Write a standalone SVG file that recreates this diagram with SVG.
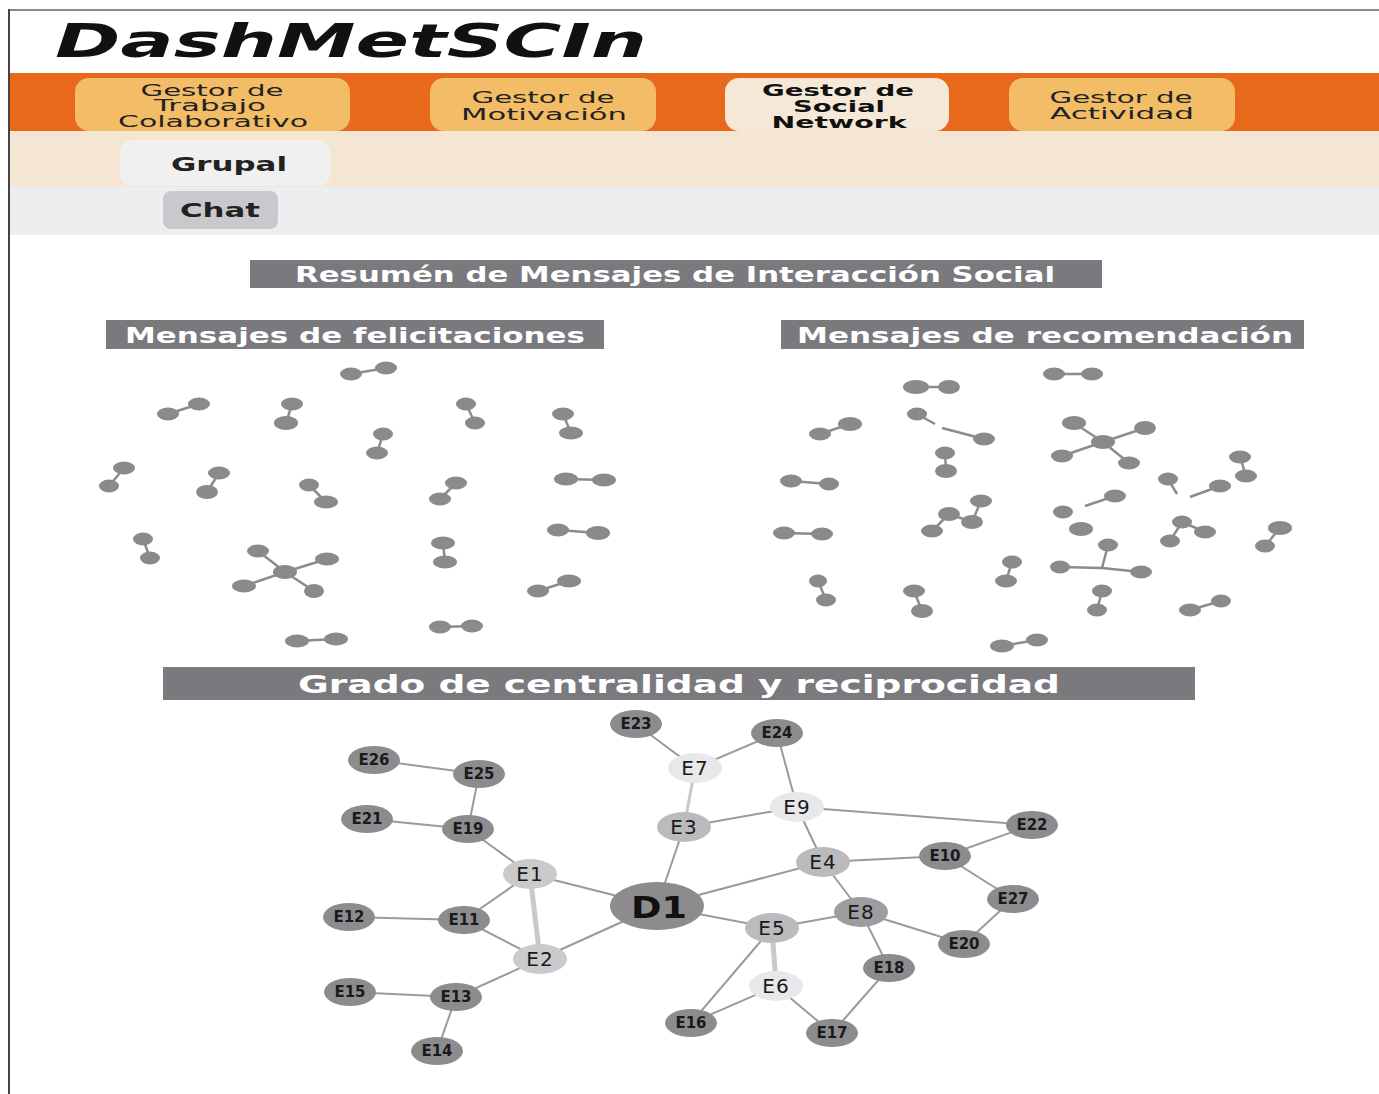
<svg xmlns="http://www.w3.org/2000/svg" width="1379" height="1094" viewBox="0 0 1379 1094">
<style>
.tab{fill:#F2BD66}
.tabact{fill:#F6E8D6}
.tt{font-family:"DejaVu Sans",sans-serif;font-size:16px;fill:#222;text-anchor:middle}
.ttb{font-family:"DejaVu Sans",sans-serif;font-size:16px;font-weight:bold;fill:#111;text-anchor:middle}
.bar{fill:#7a797e}
.bt{font-family:"DejaVu Sans",sans-serif;font-weight:bold;fill:#fff;text-anchor:middle}
.sc ellipse{fill:#8a8a8a}
.sc line{stroke:#8c8c8c;stroke-width:2.5}
.edge{stroke:#9a9a9a;stroke-width:2}
.thick{stroke:#c9c9cc;stroke-width:5}
.nd{fill:#8c8c8f}
.n8{fill:#9d9d9f}
.nm{fill:#bbbbbe}
.nl{fill:#cacacd}
.nw{fill:#e8e8ea}
.ls{font-family:"DejaVu Sans",sans-serif;font-size:15px;font-weight:bold;fill:#1a1a1a;text-anchor:middle}
.lb{font-family:"DejaVu Sans",sans-serif;font-size:20px;fill:#1a1a1a;text-anchor:middle;letter-spacing:1px}
</style>
<rect x="0" y="0" width="1379" height="1094" fill="#fff"/>
<line x1="9" y1="10" x2="1379" y2="10" stroke="#8a8a8a" stroke-width="2"/>
<line x1="9" y1="9" x2="9" y2="1094" stroke="#444" stroke-width="2"/>
<g id="title"><text x="55" y="57" font-family="DejaVu Sans, sans-serif" font-size="46" font-weight="bold" font-style="italic" fill="#111" textLength="592" lengthAdjust="spacingAndGlyphs">DashMetSCIn</text></g>
<g id="menu">
<rect x="10" y="73" width="1369" height="58" fill="#E8691B"/>
<rect x="10" y="131" width="1369" height="56" fill="#F4E6D2"/>
<rect x="10" y="187" width="1369" height="48" fill="#EDEEF0"/>
<g id="tab1"><rect class="tab" x="75" y="78" width="275" height="53" rx="14"/>
<text class="tt" x="212" y="96" textLength="143" lengthAdjust="spacingAndGlyphs">Gestor de</text>
<text class="tt" x="210" y="111" textLength="112" lengthAdjust="spacingAndGlyphs">Trabajo</text>
<text class="tt" x="213" y="127" textLength="190" lengthAdjust="spacingAndGlyphs">Colaborativo</text></g>
<g id="tab2"><rect class="tab" x="430" y="78" width="226" height="53" rx="14"/>
<text class="tt" x="543" y="103" textLength="143" lengthAdjust="spacingAndGlyphs">Gestor de</text>
<text class="tt" x="544" y="120" textLength="166" lengthAdjust="spacingAndGlyphs">Motivación</text></g>
<g id="tab3"><rect class="tabact" x="725" y="78" width="224" height="53" rx="14"/>
<text class="ttb" x="838" y="96" textLength="152" lengthAdjust="spacingAndGlyphs">Gestor de</text>
<text class="ttb" x="839" y="112" textLength="92" lengthAdjust="spacingAndGlyphs">Social</text>
<text class="ttb" x="839" y="128" textLength="135" lengthAdjust="spacingAndGlyphs">Network</text></g>
<g id="tab4"><rect class="tab" x="1009" y="78" width="226" height="53" rx="14"/>
<text class="tt" x="1121" y="103" textLength="143" lengthAdjust="spacingAndGlyphs">Gestor de</text>
<text class="tt" x="1122" y="119" textLength="144" lengthAdjust="spacingAndGlyphs">Actividad</text></g>
<g id="grupal"><rect x="120" y="140" width="210" height="46" rx="12" fill="#F0F0F0"/>
<text x="229" y="171" font-family="DejaVu Sans, sans-serif" font-size="20" font-weight="bold" fill="#222" text-anchor="middle" textLength="116" lengthAdjust="spacingAndGlyphs">Grupal</text></g>
<g id="chat"><rect x="163" y="191" width="115" height="38" rx="8" fill="#C9C9CD"/>
<text x="220" y="217" font-family="DejaVu Sans, sans-serif" font-size="20" font-weight="bold" fill="#222" text-anchor="middle" textLength="80" lengthAdjust="spacingAndGlyphs">Chat</text></g>
</g>
<g id="bars">
<rect class="bar" x="250" y="260" width="852" height="28"/>
<text class="bt" x="675" y="282" font-size="21" textLength="760" lengthAdjust="spacingAndGlyphs">Resumén de Mensajes de Interacción Social</text>
<rect class="bar" x="106" y="320" width="498" height="29"/>
<text class="bt" x="355" y="343" font-size="21" textLength="460" lengthAdjust="spacingAndGlyphs">Mensajes de felicitaciones</text>
<rect class="bar" x="781" y="320" width="523" height="29"/>
<text class="bt" x="1045" y="343" font-size="21" textLength="496" lengthAdjust="spacingAndGlyphs">Mensajes de recomendación</text>
<rect class="bar" x="163" y="667" width="1032" height="33"/>
<text class="bt" x="679" y="693" font-size="25" textLength="762" lengthAdjust="spacingAndGlyphs">Grado de centralidad y reciprocidad</text>
</g>
<g id="felicitaciones" class="sc">
<line x1="351" y1="374" x2="386" y2="368"/><ellipse cx="351" cy="374" rx="11" ry="6.5"/><ellipse cx="386" cy="368" rx="11" ry="6.5"/>
<line x1="168" y1="414" x2="199" y2="404"/><ellipse cx="168" cy="414" rx="11" ry="6.5"/><ellipse cx="199" cy="404" rx="11" ry="6.5"/>
<line x1="292" y1="404" x2="286" y2="423"/><ellipse cx="292" cy="404" rx="11" ry="6.5"/><ellipse cx="286" cy="423" rx="12" ry="7"/>
<line x1="466" y1="404" x2="475" y2="423"/><ellipse cx="466" cy="404" rx="10" ry="6.5"/><ellipse cx="475" cy="423" rx="10" ry="6.5"/>
<line x1="563" y1="414" x2="571" y2="433"/><ellipse cx="563" cy="414" rx="11" ry="6.5"/><ellipse cx="571" cy="433" rx="12" ry="6.5"/>
<line x1="383" y1="434" x2="377" y2="453"/><ellipse cx="383" cy="434" rx="10" ry="6.5"/><ellipse cx="377" cy="453" rx="11" ry="6.5"/>
<line x1="124" y1="468" x2="109" y2="486"/><ellipse cx="124" cy="468" rx="11" ry="6.5"/><ellipse cx="109" cy="486" rx="10" ry="6.5"/>
<line x1="219" y1="473" x2="207" y2="492"/><ellipse cx="219" cy="473" rx="11" ry="6.5"/><ellipse cx="207" cy="492" rx="11" ry="7"/>
<line x1="309" y1="485" x2="326" y2="502"/><ellipse cx="309" cy="485" rx="10" ry="6.5"/><ellipse cx="326" cy="502" rx="12" ry="6.5"/>
<line x1="456" y1="483" x2="440" y2="499"/><ellipse cx="456" cy="483" rx="11" ry="6.5"/><ellipse cx="440" cy="499" rx="11" ry="6.5"/>
<line x1="566" y1="479" x2="604" y2="480"/><ellipse cx="566" cy="479" rx="12" ry="6.5"/><ellipse cx="604" cy="480" rx="12" ry="6.5"/>
<line x1="143" y1="539" x2="150" y2="558"/><ellipse cx="143" cy="539" rx="10" ry="6.5"/><ellipse cx="150" cy="558" rx="10" ry="6.5"/>
<line x1="285" y1="572" x2="258" y2="551"/><line x1="285" y1="572" x2="327" y2="559"/><line x1="285" y1="572" x2="244" y2="586"/><line x1="285" y1="572" x2="314" y2="591"/>
<ellipse cx="285" cy="572" rx="12" ry="7"/><ellipse cx="258" cy="551" rx="11" ry="6.5"/><ellipse cx="327" cy="559" rx="12" ry="6.5"/><ellipse cx="244" cy="586" rx="12" ry="6.5"/><ellipse cx="314" cy="591" rx="10" ry="7"/>
<line x1="443" y1="543" x2="445" y2="562"/><ellipse cx="443" cy="543" rx="12" ry="6.5"/><ellipse cx="445" cy="562" rx="12" ry="6.5"/>
<line x1="558" y1="530" x2="598" y2="533"/><ellipse cx="558" cy="530" rx="11" ry="6.5"/><ellipse cx="598" cy="533" rx="12" ry="7"/>
<line x1="569" y1="581" x2="538" y2="591"/><ellipse cx="569" cy="581" rx="12" ry="6.5"/><ellipse cx="538" cy="591" rx="11" ry="6.5"/>
<line x1="440" y1="627" x2="472" y2="626"/><ellipse cx="440" cy="627" rx="11" ry="6.5"/><ellipse cx="472" cy="626" rx="11" ry="6.5"/>
<line x1="297" y1="641" x2="336" y2="639"/><ellipse cx="297" cy="641" rx="12" ry="6.5"/><ellipse cx="336" cy="639" rx="12" ry="6.5"/>
</g>
<g id="recomendacion" class="sc">
<line x1="1054" y1="374" x2="1092" y2="374"/><ellipse cx="1054" cy="374" rx="11" ry="6.5"/><ellipse cx="1092" cy="374" rx="11" ry="6.5"/>
<line x1="916" y1="387" x2="949" y2="387"/><ellipse cx="916" cy="387" rx="13" ry="7"/><ellipse cx="949" cy="387" rx="11" ry="7"/>
<line x1="820" y1="434" x2="850" y2="424"/><ellipse cx="820" cy="434" rx="11" ry="6.5"/><ellipse cx="850" cy="424" rx="12" ry="7"/>
<line x1="917" y1="414" x2="935" y2="424"/><line x1="942" y1="428" x2="984" y2="439"/><ellipse cx="917" cy="414" rx="10" ry="6.5"/><ellipse cx="984" cy="439" rx="11" ry="6.5"/>
<line x1="1103" y1="442" x2="1074" y2="423"/><line x1="1103" y1="442" x2="1145" y2="428"/><line x1="1103" y1="442" x2="1062" y2="456"/><line x1="1103" y1="442" x2="1129" y2="463"/>
<ellipse cx="1103" cy="442" rx="12" ry="7"/><ellipse cx="1074" cy="423" rx="12" ry="7"/><ellipse cx="1145" cy="428" rx="11" ry="7"/><ellipse cx="1062" cy="456" rx="11" ry="6.5"/><ellipse cx="1129" cy="463" rx="11" ry="6.5"/>
<line x1="945" y1="453" x2="946" y2="471"/><ellipse cx="945" cy="453" rx="10" ry="6.5"/><ellipse cx="946" cy="471" rx="11" ry="7"/>
<line x1="791" y1="481" x2="829" y2="484"/><ellipse cx="791" cy="481" rx="11" ry="6.5"/><ellipse cx="829" cy="484" rx="10" ry="6.5"/>
<line x1="784" y1="533" x2="822" y2="534"/><ellipse cx="784" cy="533" rx="11" ry="6.5"/><ellipse cx="822" cy="534" rx="11" ry="6.5"/>
<line x1="981" y1="501" x2="972" y2="522"/><line x1="949" y1="514" x2="972" y2="522"/><line x1="949" y1="514" x2="932" y2="531"/>
<ellipse cx="981" cy="501" rx="11" ry="6.5"/><ellipse cx="949" cy="514" rx="11" ry="7"/><ellipse cx="972" cy="522" rx="11" ry="7"/><ellipse cx="932" cy="531" rx="11" ry="6.5"/>
<line x1="1115" y1="496" x2="1085" y2="506"/><ellipse cx="1115" cy="496" rx="11" ry="6.5"/><ellipse cx="1063" cy="512" rx="10" ry="6.5"/><ellipse cx="1081" cy="529" rx="12" ry="7"/>
<line x1="1168" y1="479" x2="1177" y2="494"/><line x1="1220" y1="486" x2="1190" y2="497"/><ellipse cx="1168" cy="479" rx="10" ry="6.5"/><ellipse cx="1220" cy="486" rx="11" ry="6.5"/>
<line x1="1240" y1="457" x2="1246" y2="476"/><ellipse cx="1240" cy="457" rx="11" ry="6.5"/><ellipse cx="1246" cy="476" rx="11" ry="6.5"/>
<line x1="1182" y1="522" x2="1205" y2="532"/><line x1="1182" y1="522" x2="1170" y2="541"/><ellipse cx="1182" cy="522" rx="10" ry="6.5"/><ellipse cx="1205" cy="532" rx="11" ry="6.5"/><ellipse cx="1170" cy="541" rx="10" ry="6.5"/>
<line x1="1280" y1="528" x2="1265" y2="546"/><ellipse cx="1280" cy="528" rx="12" ry="7"/><ellipse cx="1265" cy="546" rx="10" ry="6.5"/>
<line x1="1102" y1="568" x2="1108" y2="545"/><line x1="1102" y1="568" x2="1060" y2="567"/><line x1="1102" y1="568" x2="1141" y2="572"/>
<ellipse cx="1108" cy="545" rx="10" ry="6.5"/><ellipse cx="1060" cy="567" rx="10" ry="6.5"/><ellipse cx="1141" cy="572" rx="11" ry="6.5"/>
<line x1="1012" y1="562" x2="1006" y2="581"/><ellipse cx="1012" cy="562" rx="10" ry="6.5"/><ellipse cx="1006" cy="581" rx="11" ry="6.5"/>
<line x1="818" y1="581" x2="826" y2="600"/><ellipse cx="818" cy="581" rx="9" ry="6.5"/><ellipse cx="826" cy="600" rx="10" ry="6.5"/>
<line x1="914" y1="591" x2="922" y2="611"/><ellipse cx="914" cy="591" rx="11" ry="6.5"/><ellipse cx="922" cy="611" rx="11" ry="7"/>
<line x1="1102" y1="591" x2="1097" y2="610"/><ellipse cx="1102" cy="591" rx="10" ry="6.5"/><ellipse cx="1097" cy="610" rx="10" ry="6.5"/>
<line x1="1221" y1="601" x2="1190" y2="610"/><ellipse cx="1221" cy="601" rx="10" ry="6.5"/><ellipse cx="1190" cy="610" rx="11" ry="6.5"/>
<line x1="1002" y1="646" x2="1037" y2="640"/><ellipse cx="1002" cy="646" rx="12" ry="6.5"/><ellipse cx="1037" cy="640" rx="11" ry="6.5"/>
</g>
<g id="connectors">
<line class="edge" x1="636" y1="724" x2="695" y2="768"/>
<line class="edge" x1="695" y1="768" x2="777" y2="733"/>
<line class="thick" x1="695" y1="768" x2="684" y2="827" style="stroke-width:3"/>
<line class="edge" x1="777" y1="733" x2="797" y2="807"/>
<line class="edge" x1="797" y1="807" x2="684" y2="827"/>
<line class="edge" x1="797" y1="807" x2="1032" y2="825"/>
<line class="edge" x1="797" y1="807" x2="823" y2="862"/>
<line class="edge" x1="1032" y1="825" x2="945" y2="856"/>
<line class="edge" x1="945" y1="856" x2="823" y2="862"/>
<line class="edge" x1="945" y1="856" x2="1013" y2="899"/>
<line class="edge" x1="1013" y1="899" x2="964" y2="944"/>
<line class="edge" x1="684" y1="827" x2="657" y2="906"/>
<line class="edge" x1="657" y1="906" x2="823" y2="862"/>
<line class="edge" x1="823" y1="862" x2="861" y2="912"/>
<line class="edge" x1="657" y1="906" x2="772" y2="928"/>
<line class="edge" x1="772" y1="928" x2="861" y2="912"/>
<line class="edge" x1="861" y1="912" x2="964" y2="944"/>
<line class="edge" x1="861" y1="912" x2="889" y2="968"/>
<line class="edge" x1="889" y1="968" x2="832" y2="1033"/>
<line class="thick" x1="772" y1="928" x2="776" y2="986"/>
<line class="edge" x1="772" y1="928" x2="691" y2="1023"/>
<line class="edge" x1="776" y1="986" x2="691" y2="1023"/>
<line class="edge" x1="776" y1="986" x2="832" y2="1033"/>
<line class="edge" x1="374" y1="760" x2="479" y2="774"/>
<line class="edge" x1="479" y1="774" x2="468" y2="829"/>
<line class="edge" x1="367" y1="819" x2="468" y2="829"/>
<line class="edge" x1="468" y1="829" x2="530" y2="874"/>
<line class="edge" x1="530" y1="874" x2="657" y2="906"/>
<line class="edge" x1="530" y1="874" x2="464" y2="920"/>
<line class="thick" x1="530" y1="874" x2="540" y2="959"/>
<line class="edge" x1="349" y1="917" x2="464" y2="920"/>
<line class="edge" x1="464" y1="920" x2="540" y2="959"/>
<line class="edge" x1="540" y1="959" x2="657" y2="906"/>
<line class="edge" x1="540" y1="959" x2="456" y2="997"/>
<line class="edge" x1="350" y1="992" x2="456" y2="997"/>
<line class="edge" x1="456" y1="997" x2="437" y2="1051"/>
</g>
<g id="D1"><ellipse class="nd" cx="657" cy="906" rx="47" ry="24"/><text x="659" y="918" font-family="DejaVu Sans, sans-serif" font-size="31" font-weight="bold" fill="#111" text-anchor="middle" textLength="56" lengthAdjust="spacingAndGlyphs">D1</text></g>
<g id="E1"><ellipse class="nl" cx="530" cy="874" rx="27" ry="15"/><text class="lb" x="530" y="881">E1</text></g>
<g id="E2"><ellipse class="nl" cx="540" cy="959" rx="27" ry="15"/><text class="lb" x="540" y="966">E2</text></g>
<g id="E3"><ellipse class="nm" cx="684" cy="827" rx="27" ry="15"/><text class="lb" x="684" y="834">E3</text></g>
<g id="E4"><ellipse class="nm" cx="823" cy="862" rx="27" ry="15"/><text class="lb" x="823" y="869">E4</text></g>
<g id="E5"><ellipse class="nm" cx="772" cy="928" rx="27" ry="15"/><text class="lb" x="772" y="935">E5</text></g>
<g id="E6"><ellipse class="nw" cx="776" cy="986" rx="27" ry="15"/><text class="lb" x="776" y="993">E6</text></g>
<g id="E7"><ellipse class="nw" cx="695" cy="768" rx="27" ry="15"/><text class="lb" x="695" y="775">E7</text></g>
<g id="E8"><ellipse class="n8" cx="861" cy="912" rx="27" ry="15"/><text class="lb" x="861" y="919">E8</text></g>
<g id="E9"><ellipse class="nw" cx="797" cy="807" rx="27" ry="15"/><text class="lb" x="797" y="814">E9</text></g>
<g id="E10"><ellipse class="nd" cx="945" cy="856" rx="26" ry="14"/><text class="ls" x="945" y="861">E10</text></g>
<g id="E11"><ellipse class="nd" cx="464" cy="920" rx="26" ry="14"/><text class="ls" x="464" y="925">E11</text></g>
<g id="E12"><ellipse class="nd" cx="349" cy="917" rx="26" ry="14"/><text class="ls" x="349" y="922">E12</text></g>
<g id="E13"><ellipse class="nd" cx="456" cy="997" rx="26" ry="14"/><text class="ls" x="456" y="1002">E13</text></g>
<g id="E14"><ellipse class="nd" cx="437" cy="1051" rx="26" ry="14"/><text class="ls" x="437" y="1056">E14</text></g>
<g id="E15"><ellipse class="nd" cx="350" cy="992" rx="26" ry="14"/><text class="ls" x="350" y="997">E15</text></g>
<g id="E16"><ellipse class="nd" cx="691" cy="1023" rx="26" ry="14"/><text class="ls" x="691" y="1028">E16</text></g>
<g id="E17"><ellipse class="nd" cx="832" cy="1033" rx="26" ry="14"/><text class="ls" x="832" y="1038">E17</text></g>
<g id="E18"><ellipse class="nd" cx="889" cy="968" rx="26" ry="14"/><text class="ls" x="889" y="973">E18</text></g>
<g id="E19"><ellipse class="nd" cx="468" cy="829" rx="26" ry="14"/><text class="ls" x="468" y="834">E19</text></g>
<g id="E20"><ellipse class="nd" cx="964" cy="944" rx="26" ry="14"/><text class="ls" x="964" y="949">E20</text></g>
<g id="E21"><ellipse class="nd" cx="367" cy="819" rx="26" ry="14"/><text class="ls" x="367" y="824">E21</text></g>
<g id="E22"><ellipse class="nd" cx="1032" cy="825" rx="26" ry="14"/><text class="ls" x="1032" y="830">E22</text></g>
<g id="E23"><ellipse class="nd" cx="636" cy="724" rx="26" ry="14"/><text class="ls" x="636" y="729">E23</text></g>
<g id="E24"><ellipse class="nd" cx="777" cy="733" rx="26" ry="14"/><text class="ls" x="777" y="738">E24</text></g>
<g id="E25"><ellipse class="nd" cx="479" cy="774" rx="26" ry="14"/><text class="ls" x="479" y="779">E25</text></g>
<g id="E26"><ellipse class="nd" cx="374" cy="760" rx="26" ry="14"/><text class="ls" x="374" y="765">E26</text></g>
<g id="E27"><ellipse class="nd" cx="1013" cy="899" rx="26" ry="14"/><text class="ls" x="1013" y="904">E27</text></g>
</svg>
